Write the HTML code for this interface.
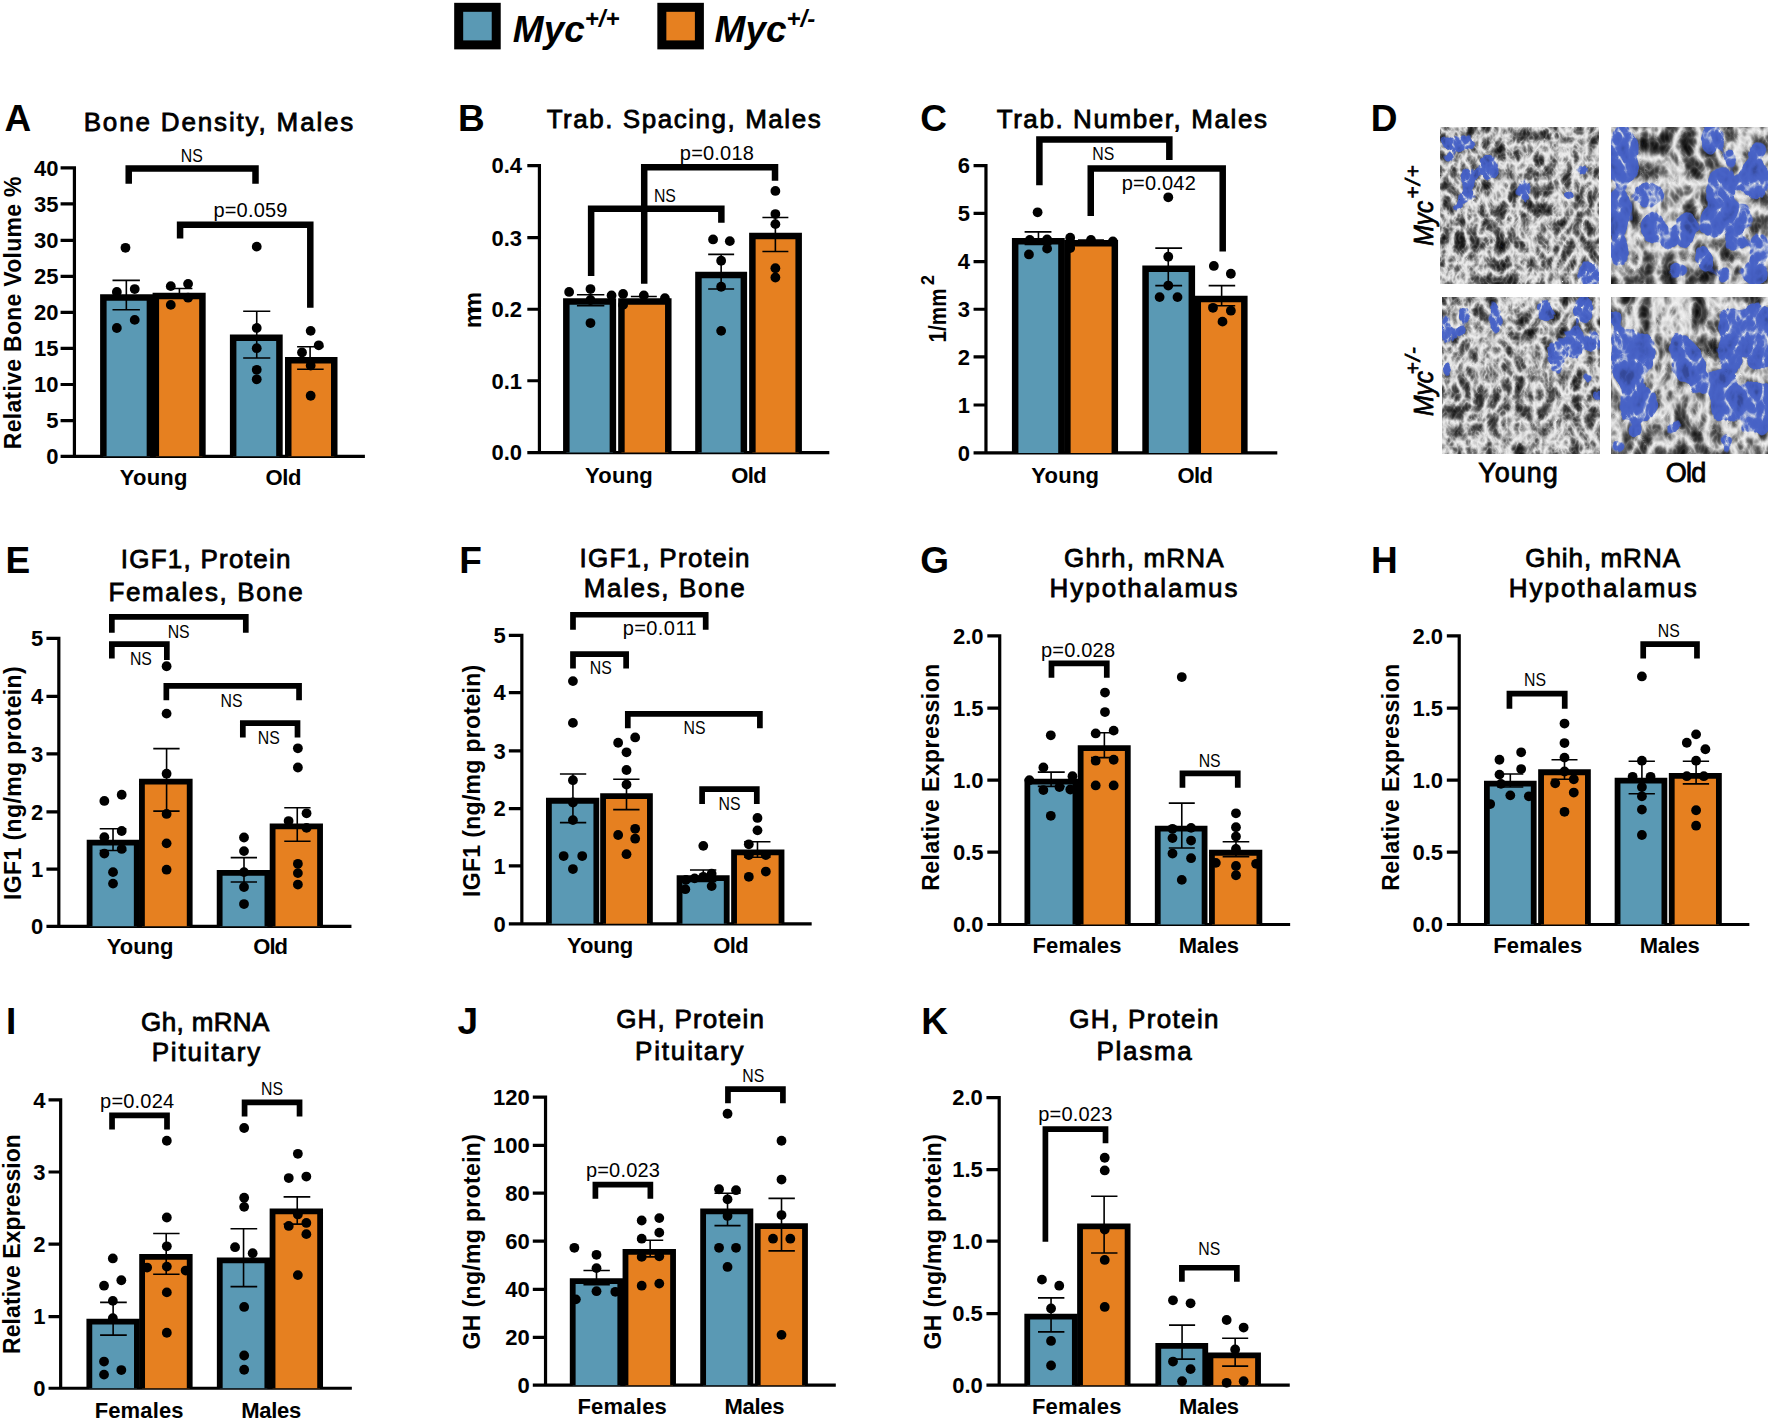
<!DOCTYPE html>
<html lang="en"><head><meta charset="utf-8"><title>Myc figure</title>
<style>
html,body{margin:0;padding:0;background:#fff}
body{width:1772px;height:1421px;overflow:hidden}
svg{display:block;font-family:"Liberation Sans",sans-serif;fill:#000}
</style></head><body>
<svg width="1772" height="1421" viewBox="0 0 1772 1421">
<rect width="1772" height="1421" fill="#fff"/>
<rect x="458.68" y="7.32" width="37.55" height="37.56" fill="#5a99b4" stroke="#000" stroke-width="9.0"/>
<rect x="661.84" y="7.32" width="37.55" height="37.56" fill="#e68020" stroke="#000" stroke-width="9.0"/>
<text x="512.87" y="42.33" font-size="37" font-weight="bold" font-style="italic">Myc<tspan font-size="24" dy="-15.5">+/+</tspan></text>
<text x="714.62" y="42.33" font-size="37" font-weight="bold" font-style="italic">Myc<tspan font-size="24" dy="-15.5">+/-</tspan></text>
<text x="4.62" y="130.96" font-size="37" font-weight="bold">A</text>
<text x="83.65" y="130.96" font-size="26" textLength="269.71" stroke="#000" stroke-width="0.8">Bone Density, Males</text>
<path d="M74.42 166.28V457.94M60.58 456.34H364.9M60.58 167.88H74.42M60.58 203.94H74.42M60.58 240.29H74.42M60.58 276.34H74.42M60.58 312.4H74.42M60.58 348.46H74.42M60.58 384.52H74.42M60.58 420.57H74.42" stroke="#000" stroke-width="3.2" fill="none"/>
<text x="58.56" y="175.69" font-size="22" font-weight="bold" text-anchor="end">40</text>
<text x="58.56" y="211.75" font-size="22" font-weight="bold" text-anchor="end">35</text>
<text x="58.56" y="248.1" font-size="22" font-weight="bold" text-anchor="end">30</text>
<text x="58.56" y="284.15" font-size="22" font-weight="bold" text-anchor="end">25</text>
<text x="58.56" y="320.21" font-size="22" font-weight="bold" text-anchor="end">20</text>
<text x="58.56" y="356.27" font-size="22" font-weight="bold" text-anchor="end">15</text>
<text x="58.56" y="392.33" font-size="22" font-weight="bold" text-anchor="end">10</text>
<text x="58.56" y="428.38" font-size="22" font-weight="bold" text-anchor="end">5</text>
<text x="58.56" y="464.15" font-size="22" font-weight="bold" text-anchor="end">0</text>
<text transform="translate(20.53,449.13) rotate(-90)" font-size="23" font-weight="bold" textLength="272.59">Relative Bone Volume %</text>
<path d="M103.35 456.34V297.48H149.92V456.34" fill="#5a99b4" stroke="#000" stroke-width="6.5"/>
<path d="M155.84 456.34V296.04H202.42V456.34" fill="#e68020" stroke="#000" stroke-width="6.5"/>
<path d="M233.15 456.34V337.86H279.44V456.34" fill="#5a99b4" stroke="#000" stroke-width="6.5"/>
<path d="M288.25 456.34V360.36H334.25V456.34" fill="#e68020" stroke="#000" stroke-width="6.5"/>
<path d="M126.34 280.38V309.81M112.5 280.38H139.9M112.5 309.81H139.9" stroke="#000" stroke-width="1.6" fill="none"/>
<path d="M179.42 288.46V298.27M166.73 288.46H192.4M166.73 298.27H192.4" stroke="#000" stroke-width="1.6" fill="none"/>
<path d="M256.73 311.25V357.98M243.17 311.25H270.29M243.17 357.98H270.29" stroke="#000" stroke-width="1.6" fill="none"/>
<path d="M310.09 346.73V369.23M297.11 346.73H323.65M297.11 369.23H323.65" stroke="#000" stroke-width="1.6" fill="none"/>
<circle cx="125.48" cy="247.79" r="4.9"/>
<circle cx="116.83" cy="291.92" r="4.9"/>
<circle cx="134.71" cy="289.04" r="4.9"/>
<circle cx="134.71" cy="319.9" r="4.9"/>
<circle cx="116.83" cy="327.98" r="4.9"/>
<circle cx="170.77" cy="286.15" r="4.9"/>
<circle cx="188.08" cy="283.84" r="4.9"/>
<circle cx="188.08" cy="297.69" r="4.9"/>
<circle cx="170.77" cy="304.9" r="4.9"/>
<circle cx="256.73" cy="246.63" r="4.9"/>
<circle cx="256.73" cy="327.98" r="4.9"/>
<circle cx="256.73" cy="348.17" r="4.9"/>
<circle cx="256.73" cy="369.81" r="4.9"/>
<circle cx="256.73" cy="379.32" r="4.9"/>
<circle cx="310.67" cy="330.86" r="4.9"/>
<circle cx="318.75" cy="345.29" r="4.9"/>
<circle cx="302.02" cy="352.5" r="4.9"/>
<circle cx="310.67" cy="365.48" r="4.9"/>
<circle cx="310.67" cy="395.77" r="4.9"/>
<path d="M128.73 183.75V168.46H255.5V183.75" stroke="#000" stroke-width="6.5" fill="none" stroke-linejoin="miter"/>
<text x="180.83" y="161.54" font-size="19" textLength="22.0" lengthAdjust="spacingAndGlyphs">NS</text>
<path d="M180.08 238.56V224.71H310.3V307.79" stroke="#000" stroke-width="6.5" fill="none" stroke-linejoin="miter"/>
<text x="213.38" y="216.92" font-size="20" textLength="74.0">p=0.059</text>
<text x="119.71" y="485.19" font-size="22" font-weight="bold" textLength="67.79">Young</text>
<text x="265.38" y="485.19" font-size="22" font-weight="bold" textLength="36.06">Old</text>
<text x="458.08" y="130.67" font-size="37" font-weight="bold">B</text>
<text x="546.63" y="128.08" font-size="26" textLength="274.04" stroke="#000" stroke-width="0.8">Trab. Spacing, Males</text>
<path d="M539.42 163.98V454.19M527.31 452.59H829.32M527.31 165.58H539.42M527.31 237.69H539.42M527.31 309.23H539.42M527.31 380.77H539.42" stroke="#000" stroke-width="3.2" fill="none"/>
<text x="522.11" y="173.39" font-size="22" font-weight="bold" text-anchor="end">0.4</text>
<text x="522.11" y="245.5" font-size="22" font-weight="bold" text-anchor="end">0.3</text>
<text x="522.11" y="317.04" font-size="22" font-weight="bold" text-anchor="end">0.2</text>
<text x="522.11" y="388.58" font-size="22" font-weight="bold" text-anchor="end">0.1</text>
<text x="522.11" y="460.4" font-size="22" font-weight="bold" text-anchor="end">0.0</text>
<text transform="translate(481.36,327.98) rotate(-90)" font-size="23" font-weight="bold" textLength="36.06">mm</text>
<path d="M566.33 452.59V301.52H612.9V452.59" fill="#5a99b4" stroke="#000" stroke-width="6.5"/>
<path d="M621.42 452.59V301.52H668.29V452.59" fill="#e68020" stroke="#000" stroke-width="6.5"/>
<path d="M698.44 452.59V274.98H743.86V452.59" fill="#5a99b4" stroke="#000" stroke-width="6.5"/>
<path d="M752.38 452.59V236.04H798.67V452.59" fill="#e68020" stroke="#000" stroke-width="6.5"/>
<path d="M590.48 294.81V305.77M576.92 294.81H604.33M576.92 305.77H604.33" stroke="#000" stroke-width="1.6" fill="none"/>
<path d="M643.84 296.54V300.57M630.86 296.54H656.82M630.86 300.57H656.82" stroke="#000" stroke-width="1.6" fill="none"/>
<path d="M721.15 254.42V289.04M708.17 254.42H734.13M708.17 289.04H734.13" stroke="#000" stroke-width="1.6" fill="none"/>
<path d="M775.38 217.5V251.54M762.4 217.5H788.36M762.4 251.54H788.36" stroke="#000" stroke-width="1.6" fill="none"/>
<circle cx="569.13" cy="291.92" r="4.9"/>
<circle cx="590.48" cy="289.04" r="4.9"/>
<circle cx="611.54" cy="295.38" r="4.9"/>
<circle cx="590.48" cy="323.07" r="4.9"/>
<circle cx="590.48" cy="300.0" r="4.9"/>
<circle cx="623.08" cy="293.94" r="4.9"/>
<circle cx="643.84" cy="295.38" r="4.9"/>
<circle cx="664.9" cy="298.27" r="4.9"/>
<circle cx="623.08" cy="304.9" r="4.9"/>
<circle cx="713.07" cy="239.42" r="4.9"/>
<circle cx="729.81" cy="241.15" r="4.9"/>
<circle cx="721.15" cy="260.77" r="4.9"/>
<circle cx="721.15" cy="286.73" r="4.9"/>
<circle cx="721.15" cy="330.86" r="4.9"/>
<circle cx="775.38" cy="190.96" r="4.9"/>
<circle cx="775.38" cy="214.04" r="4.9"/>
<circle cx="775.38" cy="224.13" r="4.9"/>
<circle cx="775.38" cy="268.27" r="4.9"/>
<circle cx="775.38" cy="277.5" r="4.9"/>
<path d="M591.13 276.06V208.85H721.36V222.69" stroke="#000" stroke-width="6.5" fill="none" stroke-linejoin="miter"/>
<text x="653.9" y="201.92" font-size="19" textLength="22.0" lengthAdjust="spacingAndGlyphs">NS</text>
<path d="M644.21 283.84V167.31H775.02V180.86" stroke="#000" stroke-width="6.5" fill="none" stroke-linejoin="miter"/>
<text x="679.82" y="160.1" font-size="20" textLength="74.0">p=0.018</text>
<text x="585.0" y="482.88" font-size="22" font-weight="bold" textLength="67.79">Young</text>
<text x="731.25" y="482.88" font-size="22" font-weight="bold" textLength="35.48">Old</text>
<text x="920.19" y="130.96" font-size="37" font-weight="bold">C</text>
<text x="996.63" y="128.08" font-size="26" textLength="270.29" stroke="#000" stroke-width="0.8">Trab. Number, Males</text>
<path d="M985.96 163.98V454.48M973.56 452.88H1277.3M973.56 165.58H985.96M973.56 213.46H985.96M973.56 261.63H985.96M973.56 309.23H985.96M973.56 356.82H985.96M973.56 405.0H985.96" stroke="#000" stroke-width="3.2" fill="none"/>
<text x="970.1" y="173.39" font-size="22" font-weight="bold" text-anchor="end">6</text>
<text x="970.1" y="221.27" font-size="22" font-weight="bold" text-anchor="end">5</text>
<text x="970.1" y="269.44" font-size="22" font-weight="bold" text-anchor="end">4</text>
<text x="970.1" y="317.04" font-size="22" font-weight="bold" text-anchor="end">3</text>
<text x="970.1" y="364.63" font-size="22" font-weight="bold" text-anchor="end">2</text>
<text x="970.1" y="412.81" font-size="22" font-weight="bold" text-anchor="end">1</text>
<text x="970.1" y="460.69" font-size="22" font-weight="bold" text-anchor="end">0</text>
<text transform="translate(946,342.4) rotate(-90)" font-size="24" font-weight="bold" textLength="54" lengthAdjust="spacingAndGlyphs">1/mm</text>
<text transform="translate(934.4,285) rotate(-90)" font-size="18" font-weight="bold">2</text>
<path d="M1015.17 452.88V241.23H1061.46V452.88" fill="#5a99b4" stroke="#000" stroke-width="6.5"/>
<path d="M1067.38 452.88V243.25H1114.82V452.88" fill="#e68020" stroke="#000" stroke-width="6.5"/>
<path d="M1145.56 452.88V268.63H1191.84V452.88" fill="#5a99b4" stroke="#000" stroke-width="6.5"/>
<path d="M1197.77 452.88V298.92H1244.34V452.88" fill="#e68020" stroke="#000" stroke-width="6.5"/>
<path d="M1038.46 231.92V244.33M1024.61 231.92H1051.44M1024.61 244.33H1051.44" stroke="#000" stroke-width="1.6" fill="none"/>
<path d="M1090.96 240.0V242.88M1077.98 240.0H1103.94M1077.98 242.88H1103.94" stroke="#000" stroke-width="1.6" fill="none"/>
<path d="M1168.27 248.08V285.58M1155.29 248.08H1182.11M1155.29 285.58H1182.11" stroke="#000" stroke-width="1.6" fill="none"/>
<path d="M1221.63 285.58V305.77M1208.65 285.58H1235.19M1208.65 305.77H1235.19" stroke="#000" stroke-width="1.6" fill="none"/>
<circle cx="1037.59" cy="212.31" r="4.9"/>
<circle cx="1029.81" cy="240.0" r="4.9"/>
<circle cx="1047.11" cy="239.42" r="4.9"/>
<circle cx="1028.94" cy="254.42" r="4.9"/>
<circle cx="1047.11" cy="248.65" r="4.9"/>
<circle cx="1070.19" cy="237.69" r="4.9"/>
<circle cx="1090.96" cy="240.0" r="4.9"/>
<circle cx="1112.88" cy="241.44" r="4.9"/>
<circle cx="1070.19" cy="248.08" r="4.9"/>
<circle cx="1168.27" cy="197.31" r="4.9"/>
<circle cx="1168.27" cy="256.73" r="4.9"/>
<circle cx="1168.27" cy="285.58" r="4.9"/>
<circle cx="1159.61" cy="297.11" r="4.9"/>
<circle cx="1177.5" cy="297.11" r="4.9"/>
<circle cx="1213.84" cy="265.96" r="4.9"/>
<circle cx="1230.86" cy="273.75" r="4.9"/>
<circle cx="1212.98" cy="307.79" r="4.9"/>
<circle cx="1230.86" cy="310.67" r="4.9"/>
<circle cx="1222.5" cy="321.63" r="4.9"/>
<path d="M1039.4 185.19V139.61H1169.34V160.1" stroke="#000" stroke-width="6.5" fill="none" stroke-linejoin="miter"/>
<text x="1092.36" y="160.1" font-size="19" textLength="22.0" lengthAdjust="spacingAndGlyphs">NS</text>
<path d="M1090.75 216.06V168.46H1222.71V251.54" stroke="#000" stroke-width="6.5" fill="none" stroke-linejoin="miter"/>
<text x="1121.75" y="189.52" font-size="20" textLength="74.0">p=0.042</text>
<text x="1031.25" y="482.88" font-size="22" font-weight="bold" textLength="67.79">Young</text>
<text x="1177.5" y="482.88" font-size="22" font-weight="bold" textLength="35.48">Old</text>
<text x="5.57" y="573.35" font-size="37" font-weight="bold">E</text>
<text x="120.76" y="567.78" font-size="26" textLength="169.69" stroke="#000" stroke-width="0.8">IGF1, Protein</text>
<text x="108.38" y="600.6" font-size="26" textLength="194.46" stroke="#000" stroke-width="0.8">Females, Bone</text>
<path d="M58.83 636.78V927.95M46.45 926.35H351.45M46.45 638.38H58.83M46.45 696.28H58.83M46.45 753.87H58.83M46.45 811.78H58.83M46.45 869.06H58.83" stroke="#000" stroke-width="3.2" fill="none"/>
<text x="43.35" y="646.19" font-size="22" font-weight="bold" text-anchor="end">5</text>
<text x="43.35" y="704.09" font-size="22" font-weight="bold" text-anchor="end">4</text>
<text x="43.35" y="761.68" font-size="22" font-weight="bold" text-anchor="end">3</text>
<text x="43.35" y="819.59" font-size="22" font-weight="bold" text-anchor="end">2</text>
<text x="43.35" y="876.87" font-size="22" font-weight="bold" text-anchor="end">1</text>
<text x="43.35" y="934.16" font-size="22" font-weight="bold" text-anchor="end">0</text>
<text transform="translate(20.51,900.02) rotate(-90)" font-size="23" font-weight="bold" textLength="233.78">IGF1 (ng/mg protein)</text>
<path d="M89.6 926.35V842.55H136.75V926.35" fill="#5a99b4" stroke="#000" stroke-width="5.8"/>
<path d="M141.93 926.35V781.55H189.7V926.35" fill="#e68020" stroke="#000" stroke-width="5.8"/>
<path d="M219.65 926.35V872.89H267.42V926.35" fill="#5a99b4" stroke="#000" stroke-width="5.8"/>
<path d="M272.6 926.35V826.44H320.06V926.35" fill="#e68020" stroke="#000" stroke-width="5.8"/>
<path d="M113.02 828.81V850.48M99.71 828.81H126.34M99.71 850.48H126.34" stroke="#000" stroke-width="1.6" fill="none"/>
<path d="M166.59 748.61V811.16M153.27 748.61H179.59M153.27 811.16H179.59" stroke="#000" stroke-width="1.6" fill="none"/>
<path d="M244.0 857.6V882.07M230.69 857.6H257.01M230.69 882.07H257.01" stroke="#000" stroke-width="1.6" fill="none"/>
<path d="M297.26 807.75V841.19M284.25 807.75H310.57M284.25 841.19H310.57" stroke="#000" stroke-width="1.6" fill="none"/>
<circle cx="104.35" cy="800.94" r="4.9"/>
<circle cx="121.69" cy="794.75" r="4.9"/>
<circle cx="121.69" cy="830.98" r="4.9"/>
<circle cx="104.35" cy="837.17" r="4.9"/>
<circle cx="104.35" cy="853.58" r="4.9"/>
<circle cx="121.69" cy="848.93" r="4.9"/>
<circle cx="113.02" cy="872.16" r="4.9"/>
<circle cx="113.02" cy="883.62" r="4.9"/>
<circle cx="166.59" cy="666.24" r="4.9"/>
<circle cx="166.59" cy="713.62" r="4.9"/>
<circle cx="166.59" cy="773.69" r="4.9"/>
<circle cx="166.59" cy="813.94" r="4.9"/>
<circle cx="166.59" cy="843.36" r="4.9"/>
<circle cx="166.59" cy="869.68" r="4.9"/>
<circle cx="244.0" cy="837.48" r="4.9"/>
<circle cx="244.0" cy="851.1" r="4.9"/>
<circle cx="244.0" cy="872.16" r="4.9"/>
<circle cx="244.0" cy="887.02" r="4.9"/>
<circle cx="244.0" cy="904.05" r="4.9"/>
<circle cx="297.88" cy="748.3" r="4.9"/>
<circle cx="297.88" cy="767.5" r="4.9"/>
<circle cx="306.55" cy="813.33" r="4.9"/>
<circle cx="288.59" cy="821.07" r="4.9"/>
<circle cx="306.55" cy="827.88" r="4.9"/>
<circle cx="297.88" cy="863.8" r="4.9"/>
<circle cx="297.88" cy="873.09" r="4.9"/>
<circle cx="297.88" cy="884.54" r="4.9"/>
<path d="M111.85 632.8V616.92H245.8V632.8" stroke="#000" stroke-width="5.7" fill="none" stroke-linejoin="miter"/>
<text x="167.67" y="637.76" font-size="19" textLength="22.0" lengthAdjust="spacingAndGlyphs">NS</text>
<path d="M111.85 658.5V644.17H166.84V660.05" stroke="#000" stroke-width="5.7" fill="none" stroke-linejoin="miter"/>
<text x="129.89" y="665.32" font-size="19" textLength="22.0" lengthAdjust="spacingAndGlyphs">NS</text>
<path d="M166.34 700.31V685.97H299.05V700.31" stroke="#000" stroke-width="5.7" fill="none" stroke-linejoin="miter"/>
<text x="220.61" y="707.12" font-size="19" textLength="22.0" lengthAdjust="spacingAndGlyphs">NS</text>
<path d="M242.83 737.46V723.13H297.51V737.46" stroke="#000" stroke-width="5.7" fill="none" stroke-linejoin="miter"/>
<text x="257.77" y="744.27" font-size="19" textLength="22.0" lengthAdjust="spacingAndGlyphs">NS</text>
<text x="106.83" y="953.59" font-size="22" font-weight="bold" textLength="66.57">Young</text>
<text x="253.29" y="953.59" font-size="22" font-weight="bold" textLength="34.68">Old</text>
<text x="459.29" y="573.35" font-size="37" font-weight="bold">F</text>
<text x="579.43" y="566.54" font-size="26" textLength="170.0" stroke="#000" stroke-width="0.8">IGF1, Protein</text>
<text x="583.77" y="597.19" font-size="26" textLength="161.02" stroke="#000" stroke-width="0.8">Males, Bone</text>
<path d="M521.84 633.68V925.47M508.83 923.87H811.67M508.83 635.28H521.84M508.83 692.56H521.84M508.83 750.78H521.84M508.83 808.68H521.84M508.83 865.97H521.84" stroke="#000" stroke-width="3.2" fill="none"/>
<text x="505.74" y="643.09" font-size="22" font-weight="bold" text-anchor="end">5</text>
<text x="505.74" y="700.37" font-size="22" font-weight="bold" text-anchor="end">4</text>
<text x="505.74" y="758.59" font-size="22" font-weight="bold" text-anchor="end">3</text>
<text x="505.74" y="816.49" font-size="22" font-weight="bold" text-anchor="end">2</text>
<text x="505.74" y="873.78" font-size="22" font-weight="bold" text-anchor="end">1</text>
<text x="505.74" y="931.68" font-size="22" font-weight="bold" text-anchor="end">0</text>
<text transform="translate(480.42,896.93) rotate(-90)" font-size="23" font-weight="bold" textLength="232.23">IGF1 (ng/mg protein)</text>
<path d="M548.89 923.87V800.74H596.35V923.87" fill="#5a99b4" stroke="#000" stroke-width="5.8"/>
<path d="M603.08 923.87V796.1H649.92V923.87" fill="#e68020" stroke="#000" stroke-width="5.8"/>
<path d="M679.56 923.87V878.15H726.71V923.87" fill="#5a99b4" stroke="#000" stroke-width="5.8"/>
<path d="M734.06 923.87V852.45H781.52V923.87" fill="#e68020" stroke="#000" stroke-width="5.8"/>
<path d="M572.93 774.0V822.61M559.92 774.0H586.24M559.92 822.61H586.24" stroke="#000" stroke-width="1.6" fill="none"/>
<path d="M626.5 779.26V809.61M613.18 779.26H639.5M613.18 809.61H639.5" stroke="#000" stroke-width="1.6" fill="none"/>
<path d="M703.29 869.99V881.45M689.98 869.99H716.3M689.98 881.45H716.3" stroke="#000" stroke-width="1.6" fill="none"/>
<path d="M757.48 841.81V857.3M744.16 841.81H770.48M744.16 857.3H770.48" stroke="#000" stroke-width="1.6" fill="none"/>
<circle cx="572.93" cy="681.11" r="4.9"/>
<circle cx="572.93" cy="722.91" r="4.9"/>
<circle cx="572.93" cy="780.19" r="4.9"/>
<circle cx="572.93" cy="820.14" r="4.9"/>
<circle cx="563.64" cy="856.06" r="4.9"/>
<circle cx="582.22" cy="856.06" r="4.9"/>
<circle cx="572.93" cy="869.06" r="4.9"/>
<circle cx="572.93" cy="802.49" r="4.9"/>
<circle cx="618.14" cy="742.73" r="4.9"/>
<circle cx="635.17" cy="737.46" r="4.9"/>
<circle cx="626.5" cy="752.33" r="4.9"/>
<circle cx="626.5" cy="769.98" r="4.9"/>
<circle cx="626.5" cy="784.53" r="4.9"/>
<circle cx="618.14" cy="835.0" r="4.9"/>
<circle cx="635.17" cy="828.81" r="4.9"/>
<circle cx="635.17" cy="838.72" r="4.9"/>
<circle cx="626.5" cy="854.2" r="4.9"/>
<circle cx="703.29" cy="845.84" r="4.9"/>
<circle cx="685.95" cy="879.9" r="4.9"/>
<circle cx="694.62" cy="878.35" r="4.9"/>
<circle cx="711.65" cy="873.71" r="4.9"/>
<circle cx="711.65" cy="886.09" r="4.9"/>
<circle cx="685.33" cy="889.19" r="4.9"/>
<circle cx="703.29" cy="876.8" r="4.9"/>
<circle cx="757.48" cy="817.97" r="4.9"/>
<circle cx="757.48" cy="830.36" r="4.9"/>
<circle cx="748.81" cy="844.29" r="4.9"/>
<circle cx="748.81" cy="855.13" r="4.9"/>
<circle cx="765.84" cy="855.13" r="4.9"/>
<circle cx="765.84" cy="871.54" r="4.9"/>
<circle cx="748.81" cy="876.8" r="4.9"/>
<path d="M572.99 629.71V614.75H705.7V629.71" stroke="#000" stroke-width="5.7" fill="none" stroke-linejoin="miter"/>
<text x="622.63" y="635.28" font-size="20" textLength="74.0">p=0.011</text>
<path d="M572.99 668.41V654.08H626.13V668.41" stroke="#000" stroke-width="5.7" fill="none" stroke-linejoin="miter"/>
<text x="589.8" y="673.99" font-size="19" textLength="22.0" lengthAdjust="spacingAndGlyphs">NS</text>
<path d="M627.8 728.17V713.84H759.89V728.17" stroke="#000" stroke-width="5.7" fill="none" stroke-linejoin="miter"/>
<text x="683.62" y="733.75" font-size="19" textLength="22.0" lengthAdjust="spacingAndGlyphs">NS</text>
<path d="M702.11 804.04V789.08H756.8V804.04" stroke="#000" stroke-width="5.7" fill="none" stroke-linejoin="miter"/>
<text x="718.61" y="809.61" font-size="19" textLength="22.0" lengthAdjust="spacingAndGlyphs">NS</text>
<text x="567.05" y="952.98" font-size="22" font-weight="bold" textLength="66.26">Young</text>
<text x="713.2" y="952.98" font-size="22" font-weight="bold" textLength="35.61">Old</text>
<text x="920.13" y="573.04" font-size="37" font-weight="bold">G</text>
<text x="1064.11" y="566.54" font-size="26" textLength="159.47" stroke="#000" stroke-width="0.8">Ghrh, mRNA</text>
<text x="1049.56" y="597.19" font-size="26" textLength="187.95" stroke="#000" stroke-width="0.8">Hypothalamus</text>
<path d="M999.71 634.3V926.09M987.32 924.49H1290.15M987.32 635.9H999.71M987.32 708.05H999.71M987.32 780.19H999.71M987.32 852.03H999.71" stroke="#000" stroke-width="3.2" fill="none"/>
<text x="983.6" y="643.71" font-size="22" font-weight="bold" text-anchor="end">2.0</text>
<text x="983.6" y="715.86" font-size="22" font-weight="bold" text-anchor="end">1.5</text>
<text x="983.6" y="788.0" font-size="22" font-weight="bold" text-anchor="end">1.0</text>
<text x="983.6" y="859.84" font-size="22" font-weight="bold" text-anchor="end">0.5</text>
<text x="983.6" y="932.3" font-size="22" font-weight="bold" text-anchor="end">0.0</text>
<text transform="translate(939.24,890.74) rotate(-90)" font-size="23" font-weight="bold" textLength="226.97">Relative Expression</text>
<path d="M1027.38 924.49V781.55H1075.46V924.49" fill="#5a99b4" stroke="#000" stroke-width="5.8"/>
<path d="M1080.64 924.49V748.1H1127.79V924.49" fill="#e68020" stroke="#000" stroke-width="5.8"/>
<path d="M1157.74 924.49V828.61H1204.58V924.49" fill="#5a99b4" stroke="#000" stroke-width="5.8"/>
<path d="M1211.93 924.49V852.76H1259.39V924.49" fill="#e68020" stroke="#000" stroke-width="5.8"/>
<path d="M1051.11 772.14V786.39M1037.79 772.14H1064.73M1037.79 786.39H1064.73" stroke="#000" stroke-width="1.6" fill="none"/>
<path d="M1104.37 732.82V757.59M1091.05 732.82H1117.68M1091.05 757.59H1117.68" stroke="#000" stroke-width="1.6" fill="none"/>
<path d="M1181.78 803.11V848.01M1168.77 803.11H1194.78M1168.77 848.01H1194.78" stroke="#000" stroke-width="1.6" fill="none"/>
<path d="M1235.97 841.81V856.68M1222.65 841.81H1249.28M1222.65 856.68H1249.28" stroke="#000" stroke-width="1.6" fill="none"/>
<circle cx="1050.8" cy="735.29" r="4.9"/>
<circle cx="1043.37" cy="767.5" r="4.9"/>
<circle cx="1029.43" cy="780.19" r="4.9"/>
<circle cx="1072.47" cy="776.17" r="4.9"/>
<circle cx="1043.37" cy="790.1" r="4.9"/>
<circle cx="1059.47" cy="787.01" r="4.9"/>
<circle cx="1070.31" cy="789.48" r="4.9"/>
<circle cx="1050.8" cy="815.8" r="4.9"/>
<circle cx="1104.99" cy="692.56" r="4.9"/>
<circle cx="1104.99" cy="712.07" r="4.9"/>
<circle cx="1095.7" cy="733.44" r="4.9"/>
<circle cx="1113.66" cy="730.65" r="4.9"/>
<circle cx="1095.7" cy="760.69" r="4.9"/>
<circle cx="1113.66" cy="759.76" r="4.9"/>
<circle cx="1095.7" cy="785.46" r="4.9"/>
<circle cx="1113.66" cy="785.46" r="4.9"/>
<circle cx="1181.78" cy="677.08" r="4.9"/>
<circle cx="1172.49" cy="828.81" r="4.9"/>
<circle cx="1191.07" cy="827.88" r="4.9"/>
<circle cx="1172.49" cy="838.1" r="4.9"/>
<circle cx="1191.07" cy="840.57" r="4.9"/>
<circle cx="1172.49" cy="853.58" r="4.9"/>
<circle cx="1191.07" cy="858.22" r="4.9"/>
<circle cx="1181.78" cy="879.9" r="4.9"/>
<circle cx="1235.97" cy="813.33" r="4.9"/>
<circle cx="1235.97" cy="827.26" r="4.9"/>
<circle cx="1235.97" cy="836.55" r="4.9"/>
<circle cx="1235.97" cy="848.93" r="4.9"/>
<circle cx="1215.84" cy="862.87" r="4.9"/>
<circle cx="1235.97" cy="865.97" r="4.9"/>
<circle cx="1256.09" cy="863.8" r="4.9"/>
<circle cx="1235.97" cy="875.25" r="4.9"/>
<path d="M1051.48 677.7V663.37H1106.78V677.7" stroke="#000" stroke-width="5.7" fill="none" stroke-linejoin="miter"/>
<text x="1041.05" y="656.95" font-size="20" textLength="74.0">p=0.028</text>
<path d="M1182.46 787.63V773.29H1237.76V787.63" stroke="#000" stroke-width="5.7" fill="none" stroke-linejoin="miter"/>
<text x="1198.65" y="766.88" font-size="19" textLength="22.0" lengthAdjust="spacingAndGlyphs">NS</text>
<text x="1032.53" y="952.67" font-size="22" font-weight="bold" textLength="88.87">Females</text>
<text x="1178.68" y="952.67" font-size="22" font-weight="bold" textLength="60.38">Males</text>
<text x="1370.96" y="573.35" font-size="37" font-weight="bold">H</text>
<text x="1525.17" y="566.54" font-size="26" textLength="154.82" stroke="#000" stroke-width="0.8">Ghih, mRNA</text>
<text x="1508.76" y="597.19" font-size="26" textLength="187.95" stroke="#000" stroke-width="0.8">Hypothalamus</text>
<path d="M1459.21 634.3V926.09M1446.83 924.49H1749.35M1446.83 635.9H1459.21M1446.83 708.05H1459.21M1446.83 780.19H1459.21M1446.83 852.03H1459.21" stroke="#000" stroke-width="3.2" fill="none"/>
<text x="1443.11" y="643.71" font-size="22" font-weight="bold" text-anchor="end">2.0</text>
<text x="1443.11" y="715.86" font-size="22" font-weight="bold" text-anchor="end">1.5</text>
<text x="1443.11" y="788.0" font-size="22" font-weight="bold" text-anchor="end">1.0</text>
<text x="1443.11" y="859.84" font-size="22" font-weight="bold" text-anchor="end">0.5</text>
<text x="1443.11" y="932.3" font-size="22" font-weight="bold" text-anchor="end">0.0</text>
<text transform="translate(1399.37,890.74) rotate(-90)" font-size="23" font-weight="bold" textLength="226.97">Relative Expression</text>
<path d="M1486.89 924.49V783.71H1533.72V924.49" fill="#5a99b4" stroke="#000" stroke-width="5.8"/>
<path d="M1541.07 924.49V772.26H1587.91V924.49" fill="#e68020" stroke="#000" stroke-width="5.8"/>
<path d="M1617.56 924.49V780.62H1664.4V924.49" fill="#5a99b4" stroke="#000" stroke-width="5.8"/>
<path d="M1671.74 924.49V775.97H1718.89V924.49" fill="#e68020" stroke="#000" stroke-width="5.8"/>
<path d="M1510.31 774.0V787.01M1497.3 774.0H1523.31M1497.3 787.01H1523.31" stroke="#000" stroke-width="1.6" fill="none"/>
<path d="M1564.49 759.76V779.26M1551.49 759.76H1577.5M1551.49 779.26H1577.5" stroke="#000" stroke-width="1.6" fill="none"/>
<path d="M1641.9 761.31V793.82M1628.59 761.31H1654.91M1628.59 793.82H1654.91" stroke="#000" stroke-width="1.6" fill="none"/>
<path d="M1696.09 761.31V783.91M1682.78 761.31H1709.1M1682.78 783.91H1709.1" stroke="#000" stroke-width="1.6" fill="none"/>
<circle cx="1499.47" cy="759.76" r="4.9"/>
<circle cx="1521.14" cy="752.33" r="4.9"/>
<circle cx="1521.14" cy="769.05" r="4.9"/>
<circle cx="1499.47" cy="774.62" r="4.9"/>
<circle cx="1510.31" cy="795.37" r="4.9"/>
<circle cx="1490.18" cy="804.04" r="4.9"/>
<circle cx="1528.88" cy="796.3" r="4.9"/>
<circle cx="1501.02" cy="783.91" r="4.9"/>
<circle cx="1564.49" cy="723.53" r="4.9"/>
<circle cx="1564.49" cy="743.04" r="4.9"/>
<circle cx="1564.49" cy="757.59" r="4.9"/>
<circle cx="1555.2" cy="783.29" r="4.9"/>
<circle cx="1573.78" cy="779.26" r="4.9"/>
<circle cx="1573.78" cy="792.58" r="4.9"/>
<circle cx="1564.49" cy="811.78" r="4.9"/>
<circle cx="1564.49" cy="771.52" r="4.9"/>
<circle cx="1641.9" cy="676.46" r="4.9"/>
<circle cx="1641.9" cy="760.69" r="4.9"/>
<circle cx="1632.61" cy="776.79" r="4.9"/>
<circle cx="1650.57" cy="776.79" r="4.9"/>
<circle cx="1641.9" cy="787.01" r="4.9"/>
<circle cx="1641.9" cy="796.3" r="4.9"/>
<circle cx="1641.9" cy="809.61" r="4.9"/>
<circle cx="1641.9" cy="835.0" r="4.9"/>
<circle cx="1696.09" cy="734.37" r="4.9"/>
<circle cx="1686.8" cy="742.73" r="4.9"/>
<circle cx="1705.38" cy="749.23" r="4.9"/>
<circle cx="1696.09" cy="760.69" r="4.9"/>
<circle cx="1686.8" cy="776.17" r="4.9"/>
<circle cx="1703.83" cy="776.17" r="4.9"/>
<circle cx="1696.09" cy="810.23" r="4.9"/>
<circle cx="1696.09" cy="825.71" r="4.9"/>
<path d="M1509.44 708.67V693.71H1564.74V708.67" stroke="#000" stroke-width="5.7" fill="none" stroke-linejoin="miter"/>
<text x="1524.08" y="685.75" font-size="19" textLength="22.0" lengthAdjust="spacingAndGlyphs">NS</text>
<path d="M1643.21 658.5V644.17H1696.96V658.5" stroke="#000" stroke-width="5.7" fill="none" stroke-linejoin="miter"/>
<text x="1657.84" y="637.45" font-size="19" textLength="22.0" lengthAdjust="spacingAndGlyphs">NS</text>
<text x="1493.27" y="952.67" font-size="22" font-weight="bold" textLength="88.87">Females</text>
<text x="1639.74" y="952.67" font-size="22" font-weight="bold" textLength="60.07">Males</text>
<text x="6.07" y="1033.98" font-size="37" font-weight="bold">I</text>
<text x="141.04" y="1030.95" font-size="26" textLength="128.3" stroke="#000" stroke-width="0.8">Gh, mRNA</text>
<text x="151.65" y="1061.28" font-size="26" textLength="108.58" stroke="#000" stroke-width="0.8">Pituitary</text>
<path d="M60.66 1098.2V1389.84M48.53 1388.24H351.84M48.53 1099.8H60.66M48.53 1171.98H60.66M48.53 1244.17H60.66M48.53 1316.66H60.66" stroke="#000" stroke-width="3.2" fill="none"/>
<text x="45.5" y="1107.61" font-size="22" font-weight="bold" text-anchor="end">4</text>
<text x="45.5" y="1179.79" font-size="22" font-weight="bold" text-anchor="end">3</text>
<text x="45.5" y="1251.98" font-size="22" font-weight="bold" text-anchor="end">2</text>
<text x="45.5" y="1324.47" font-size="22" font-weight="bold" text-anchor="end">1</text>
<text x="45.5" y="1396.05" font-size="22" font-weight="bold" text-anchor="end">0</text>
<text transform="translate(20.41,1353.97) rotate(-90)" font-size="23" font-weight="bold" textLength="219.9">Relative Expression</text>
<path d="M89.34 1388.24V1321.68H136.92V1388.24" fill="#5a99b4" stroke="#000" stroke-width="5.8"/>
<path d="M142.12 1388.24V1256.78H189.7V1388.24" fill="#e68020" stroke="#000" stroke-width="5.8"/>
<path d="M219.76 1388.24V1260.42H267.35V1388.24" fill="#5a99b4" stroke="#000" stroke-width="5.8"/>
<path d="M272.54 1388.24V1211.28H320.12V1388.24" fill="#e68020" stroke="#000" stroke-width="5.8"/>
<path d="M113.13 1302.41V1335.16M100.09 1302.41H126.78M100.09 1335.16H126.78" stroke="#000" stroke-width="1.6" fill="none"/>
<path d="M166.21 1233.55V1274.2M153.17 1233.55H179.56M153.17 1274.2H179.56" stroke="#000" stroke-width="1.6" fill="none"/>
<path d="M243.55 1228.7V1286.63M230.51 1228.7H257.2M230.51 1286.63H257.2" stroke="#000" stroke-width="1.6" fill="none"/>
<path d="M297.24 1196.85V1224.15M283.59 1196.85H310.28M283.59 1224.15H310.28" stroke="#000" stroke-width="1.6" fill="none"/>
<circle cx="112.83" cy="1258.43" r="4.9"/>
<circle cx="121.32" cy="1280.26" r="4.9"/>
<circle cx="104.03" cy="1285.72" r="4.9"/>
<circle cx="112.83" cy="1300.89" r="4.9"/>
<circle cx="112.83" cy="1318.18" r="4.9"/>
<circle cx="104.03" cy="1361.55" r="4.9"/>
<circle cx="121.32" cy="1370.04" r="4.9"/>
<circle cx="104.03" cy="1374.59" r="4.9"/>
<circle cx="166.82" cy="1140.74" r="4.9"/>
<circle cx="166.82" cy="1217.48" r="4.9"/>
<circle cx="166.82" cy="1246.29" r="4.9"/>
<circle cx="166.82" cy="1266.62" r="4.9"/>
<circle cx="147.1" cy="1267.53" r="4.9"/>
<circle cx="185.62" cy="1270.56" r="4.9"/>
<circle cx="166.82" cy="1292.4" r="4.9"/>
<circle cx="166.82" cy="1332.74" r="4.9"/>
<circle cx="244.16" cy="1128.0" r="4.9"/>
<circle cx="244.16" cy="1197.76" r="4.9"/>
<circle cx="244.16" cy="1206.86" r="4.9"/>
<circle cx="235.06" cy="1247.2" r="4.9"/>
<circle cx="252.65" cy="1253.27" r="4.9"/>
<circle cx="244.16" cy="1306.95" r="4.9"/>
<circle cx="244.16" cy="1355.48" r="4.9"/>
<circle cx="244.16" cy="1369.74" r="4.9"/>
<circle cx="297.85" cy="1153.79" r="4.9"/>
<circle cx="288.75" cy="1178.05" r="4.9"/>
<circle cx="306.34" cy="1176.53" r="4.9"/>
<circle cx="288.75" cy="1225.97" r="4.9"/>
<circle cx="306.34" cy="1222.94" r="4.9"/>
<circle cx="306.34" cy="1234.16" r="4.9"/>
<circle cx="297.85" cy="1214.45" r="4.9"/>
<circle cx="297.85" cy="1275.11" r="4.9"/>
<path d="M112.04 1129.52V1115.47H167.0V1129.52" stroke="#000" stroke-width="5.7" fill="none" stroke-linejoin="miter"/>
<text x="100.09" y="1108.29" font-size="20" textLength="74.0">p=0.024</text>
<path d="M244.58 1116.48V1102.43H299.55V1116.48" stroke="#000" stroke-width="5.7" fill="none" stroke-linejoin="miter"/>
<text x="261.07" y="1095.25" font-size="19" textLength="22.0" lengthAdjust="spacingAndGlyphs">NS</text>
<text x="94.63" y="1417.96" font-size="22" font-weight="bold" textLength="88.87">Females</text>
<text x="241.13" y="1417.96" font-size="22" font-weight="bold" textLength="60.05">Males</text>
<text x="457.58" y="1033.98" font-size="37" font-weight="bold">J</text>
<text x="616.21" y="1027.91" font-size="26" textLength="147.71" stroke="#000" stroke-width="0.8">GH, Protein</text>
<text x="635.02" y="1059.76" font-size="26" textLength="108.58" stroke="#000" stroke-width="0.8">Pituitary</text>
<path d="M545.54 1095.47V1386.81M532.8 1385.21H835.81M532.8 1097.07H545.54M532.8 1145.29H545.54M532.8 1193.22H545.54M532.8 1241.14H545.54M532.8 1289.36H545.54M532.8 1337.29H545.54" stroke="#000" stroke-width="3.2" fill="none"/>
<text x="529.77" y="1104.88" font-size="22" font-weight="bold" text-anchor="end">120</text>
<text x="529.77" y="1153.1" font-size="22" font-weight="bold" text-anchor="end">100</text>
<text x="529.77" y="1201.03" font-size="22" font-weight="bold" text-anchor="end">80</text>
<text x="529.77" y="1248.95" font-size="22" font-weight="bold" text-anchor="end">60</text>
<text x="529.77" y="1297.17" font-size="22" font-weight="bold" text-anchor="end">40</text>
<text x="529.77" y="1345.1" font-size="22" font-weight="bold" text-anchor="end">20</text>
<text x="529.77" y="1393.02" font-size="22" font-weight="bold" text-anchor="end">0</text>
<text transform="translate(479.96,1349.42) rotate(-90)" font-size="23" font-weight="bold" textLength="215.35">GH (ng/mg protein)</text>
<path d="M572.71 1385.21V1281.04H620.29V1385.21" fill="#5a99b4" stroke="#000" stroke-width="5.8"/>
<path d="M625.48 1385.21V1251.92H673.06V1385.21" fill="#e68020" stroke="#000" stroke-width="5.8"/>
<path d="M703.13 1385.21V1211.28H750.41V1385.21" fill="#5a99b4" stroke="#000" stroke-width="5.8"/>
<path d="M757.72 1385.21V1226.14H805.0V1385.21" fill="#e68020" stroke="#000" stroke-width="5.8"/>
<path d="M596.5 1270.56V1284.81M583.45 1270.56H609.84M583.45 1284.81H609.84" stroke="#000" stroke-width="1.6" fill="none"/>
<path d="M650.18 1240.23V1256.91M637.14 1240.23H663.22M637.14 1256.91H663.22" stroke="#000" stroke-width="1.6" fill="none"/>
<path d="M727.53 1193.22V1225.67M714.48 1193.22H740.57M714.48 1225.67H740.57" stroke="#000" stroke-width="1.6" fill="none"/>
<path d="M781.51 1198.37V1250.84M768.47 1198.37H794.86M768.47 1250.84H794.86" stroke="#000" stroke-width="1.6" fill="none"/>
<circle cx="574.36" cy="1247.81" r="4.9"/>
<circle cx="596.5" cy="1254.79" r="4.9"/>
<circle cx="596.5" cy="1268.13" r="4.9"/>
<circle cx="596.5" cy="1291.18" r="4.9"/>
<circle cx="575.87" cy="1299.37" r="4.9"/>
<circle cx="615.3" cy="1291.79" r="4.9"/>
<circle cx="641.69" cy="1220.51" r="4.9"/>
<circle cx="659.28" cy="1218.09" r="4.9"/>
<circle cx="659.28" cy="1232.64" r="4.9"/>
<circle cx="641.69" cy="1238.71" r="4.9"/>
<circle cx="641.69" cy="1256.91" r="4.9"/>
<circle cx="659.28" cy="1256.3" r="4.9"/>
<circle cx="641.69" cy="1285.72" r="4.9"/>
<circle cx="659.28" cy="1283.6" r="4.9"/>
<circle cx="727.53" cy="1113.75" r="4.9"/>
<circle cx="719.03" cy="1189.27" r="4.9"/>
<circle cx="736.02" cy="1190.18" r="4.9"/>
<circle cx="727.53" cy="1199.28" r="4.9"/>
<circle cx="727.53" cy="1215.96" r="4.9"/>
<circle cx="719.03" cy="1247.81" r="4.9"/>
<circle cx="736.02" cy="1247.81" r="4.9"/>
<circle cx="727.53" cy="1266.92" r="4.9"/>
<circle cx="781.51" cy="1140.74" r="4.9"/>
<circle cx="781.51" cy="1179.57" r="4.9"/>
<circle cx="781.51" cy="1215.05" r="4.9"/>
<circle cx="773.02" cy="1238.71" r="4.9"/>
<circle cx="790.31" cy="1238.71" r="4.9"/>
<circle cx="781.51" cy="1334.86" r="4.9"/>
<path d="M595.4 1198.67V1184.63H650.37V1198.67" stroke="#000" stroke-width="5.7" fill="none" stroke-linejoin="miter"/>
<text x="585.88" y="1176.53" font-size="20" textLength="74.0">p=0.023</text>
<path d="M727.95 1103.13V1089.08H782.91V1103.13" stroke="#000" stroke-width="5.7" fill="none" stroke-linejoin="miter"/>
<text x="742.31" y="1081.9" font-size="19" textLength="22.0" lengthAdjust="spacingAndGlyphs">NS</text>
<text x="577.39" y="1414.33" font-size="22" font-weight="bold" textLength="89.48">Females</text>
<text x="724.49" y="1414.33" font-size="22" font-weight="bold" textLength="60.05">Males</text>
<text x="921.23" y="1033.98" font-size="37" font-weight="bold">K</text>
<text x="1069.24" y="1027.91" font-size="26" textLength="149.23" stroke="#000" stroke-width="0.8">GH, Protein</text>
<text x="1096.54" y="1059.76" font-size="26" textLength="95.24" stroke="#000" stroke-width="0.8">Plasma</text>
<path d="M999.18 1096.07V1386.81M986.44 1385.21H1289.75M986.44 1097.67H999.18M986.44 1169.56H999.18M986.44 1241.14H999.18M986.44 1313.63H999.18" stroke="#000" stroke-width="3.2" fill="none"/>
<text x="982.8" y="1105.48" font-size="22" font-weight="bold" text-anchor="end">2.0</text>
<text x="982.8" y="1177.37" font-size="22" font-weight="bold" text-anchor="end">1.5</text>
<text x="982.8" y="1248.95" font-size="22" font-weight="bold" text-anchor="end">1.0</text>
<text x="982.8" y="1321.44" font-size="22" font-weight="bold" text-anchor="end">0.5</text>
<text x="982.8" y="1393.02" font-size="22" font-weight="bold" text-anchor="end">0.0</text>
<text transform="translate(940.88,1349.42) rotate(-90)" font-size="23" font-weight="bold" textLength="215.35">GH (ng/mg protein)</text>
<path d="M1027.26 1385.21V1316.53H1074.84V1385.21" fill="#5a99b4" stroke="#000" stroke-width="5.8"/>
<path d="M1080.03 1385.21V1226.45H1127.61V1385.21" fill="#e68020" stroke="#000" stroke-width="5.8"/>
<path d="M1158.28 1385.21V1345.95H1205.26V1385.21" fill="#5a99b4" stroke="#000" stroke-width="5.8"/>
<path d="M1210.45 1385.21V1355.35H1258.03V1385.21" fill="#e68020" stroke="#000" stroke-width="5.8"/>
<path d="M1051.05 1297.86V1331.83M1038.0 1297.86H1064.39M1038.0 1331.83H1064.39" stroke="#000" stroke-width="1.6" fill="none"/>
<path d="M1104.12 1196.25V1252.97M1091.08 1196.25H1117.47M1091.08 1252.97H1117.47" stroke="#000" stroke-width="1.6" fill="none"/>
<path d="M1182.07 1325.15V1359.12M1169.03 1325.15H1195.12M1169.03 1359.12H1195.12" stroke="#000" stroke-width="1.6" fill="none"/>
<path d="M1235.15 1338.2V1366.1M1222.11 1338.2H1248.2M1222.11 1366.1H1248.2" stroke="#000" stroke-width="1.6" fill="none"/>
<circle cx="1041.95" cy="1279.66" r="4.9"/>
<circle cx="1059.24" cy="1285.72" r="4.9"/>
<circle cx="1051.05" cy="1308.47" r="4.9"/>
<circle cx="1051.05" cy="1340.93" r="4.9"/>
<circle cx="1051.05" cy="1365.49" r="4.9"/>
<circle cx="1104.73" cy="1157.73" r="4.9"/>
<circle cx="1104.73" cy="1170.47" r="4.9"/>
<circle cx="1104.73" cy="1229.61" r="4.9"/>
<circle cx="1104.73" cy="1259.94" r="4.9"/>
<circle cx="1104.73" cy="1306.95" r="4.9"/>
<circle cx="1172.98" cy="1300.28" r="4.9"/>
<circle cx="1190.57" cy="1303.32" r="4.9"/>
<circle cx="1172.98" cy="1361.55" r="4.9"/>
<circle cx="1190.57" cy="1369.13" r="4.9"/>
<circle cx="1182.07" cy="1381.26" r="4.9"/>
<circle cx="1226.66" cy="1320.0" r="4.9"/>
<circle cx="1243.65" cy="1327.58" r="4.9"/>
<circle cx="1235.15" cy="1349.42" r="4.9"/>
<circle cx="1226.66" cy="1382.78" r="4.9"/>
<circle cx="1243.65" cy="1381.26" r="4.9"/>
<path d="M1045.4 1241.74V1129.12H1105.52V1143.17" stroke="#000" stroke-width="5.7" fill="none" stroke-linejoin="miter"/>
<text x="1038.31" y="1121.03" font-size="20" textLength="74.0">p=0.023</text>
<path d="M1181.89 1281.78V1267.73H1236.85V1281.78" stroke="#000" stroke-width="5.7" fill="none" stroke-linejoin="miter"/>
<text x="1198.37" y="1255.39" font-size="19" textLength="22.0" lengthAdjust="spacingAndGlyphs">NS</text>
<text x="1031.94" y="1414.33" font-size="22" font-weight="bold" textLength="89.48">Females</text>
<text x="1179.04" y="1414.33" font-size="22" font-weight="bold" textLength="60.05">Males</text>
<text x="1370.77" y="130.96" font-size="37" font-weight="bold">D</text>
<defs><filter id="ct1" filterUnits="userSpaceOnUse" x="1440.5" y="127" width="157.7" height="157" color-interpolation-filters="sRGB">
<feTurbulence type="turbulence" baseFrequency="0.075 0.055" numOctaves="3" seed="37" result="n"/>
<feColorMatrix in="n" type="matrix" values="1 0 0 0 0  1 0 0 0 0  1 0 0 0 0  0 0 0 0 1" result="g0"/>
<feComponentTransfer in="g0" result="gray"><feFuncR type="table" tableValues="0.95 0.9 0.8 0.62 0.42 0.28 0.18 0.1 0.05 0.02 0"/><feFuncG type="table" tableValues="0.95 0.9 0.8 0.62 0.42 0.28 0.18 0.1 0.05 0.02 0"/><feFuncB type="table" tableValues="0.95 0.9 0.8 0.62 0.42 0.28 0.18 0.1 0.05 0.02 0"/></feComponentTransfer>
<feComponentTransfer in="g0" result="blue"><feFuncR type="table" tableValues="0.9 0.62 0.32 0.285 0.28 0.27 0.25 0.22 0.2 0.2 0.2"/><feFuncG type="table" tableValues="0.9 0.68 0.42 0.39 0.385 0.37 0.35 0.30 0.28 0.28 0.28"/><feFuncB type="table" tableValues="0.92 0.85 0.79 0.78 0.775 0.76 0.72 0.62 0.6 0.6 0.6"/></feComponentTransfer>
<feGaussianBlur in="SourceAlpha" stdDeviation="3.5" result="mb"/>
<feColorMatrix in="n" type="matrix" values="0 0 0 0 0  0 0 0 0 0  0 0 0 0 0  1 0 0 0 0" result="na"/>
<feComposite in="mb" in2="na" operator="arithmetic" k1="0" k2="0.9" k3="0.72" k4="0" result="m1"/>
<feComponentTransfer in="m1" result="m2"><feFuncA type="linear" slope="9" intercept="-5.35"/></feComponentTransfer>
<feComposite in="blue" in2="m2" operator="in" result="bluem"/>
<feMerge><feMergeNode in="gray"/><feMergeNode in="bluem"/></feMerge>
</filter></defs>
<g filter="url(#ct1)" fill="#fff">
<ellipse cx="1458.5" cy="143.3" rx="18.0" ry="7.1"/>
<ellipse cx="1488.6" cy="167.5" rx="10.0" ry="12.5"/>
<ellipse cx="1467.9" cy="177.6" rx="7.7" ry="9.6"/>
<ellipse cx="1467.3" cy="195.9" rx="8.3" ry="7.1"/>
<ellipse cx="1457.9" cy="207.1" rx="4.7" ry="5.3"/>
<ellipse cx="1524.1" cy="189.4" rx="5.9" ry="11.9"/>
<ellipse cx="1569.0" cy="195.9" rx="5.9" ry="5.9"/>
<ellipse cx="1580.8" cy="169.9" rx="8.3" ry="4.7"/>
<ellipse cx="1589.7" cy="274.5" rx="11.9" ry="13.1"/>
<ellipse cx="1450.2" cy="157.5" rx="5.3" ry="5.3"/>
</g>
<defs><filter id="ct2" filterUnits="userSpaceOnUse" x="1611" y="127" width="157" height="157" color-interpolation-filters="sRGB">
<feTurbulence type="turbulence" baseFrequency="0.05 0.038" numOctaves="3" seed="23" result="n"/>
<feColorMatrix in="n" type="matrix" values="1 0 0 0 0  1 0 0 0 0  1 0 0 0 0  0 0 0 0 1" result="g0"/>
<feComponentTransfer in="g0" result="gray"><feFuncR type="table" tableValues="0.95 0.9 0.8 0.62 0.42 0.28 0.18 0.1 0.05 0.02 0"/><feFuncG type="table" tableValues="0.95 0.9 0.8 0.62 0.42 0.28 0.18 0.1 0.05 0.02 0"/><feFuncB type="table" tableValues="0.95 0.9 0.8 0.62 0.42 0.28 0.18 0.1 0.05 0.02 0"/></feComponentTransfer>
<feComponentTransfer in="g0" result="blue"><feFuncR type="table" tableValues="0.9 0.62 0.32 0.285 0.28 0.27 0.25 0.22 0.2 0.2 0.2"/><feFuncG type="table" tableValues="0.9 0.68 0.42 0.39 0.385 0.37 0.35 0.30 0.28 0.28 0.28"/><feFuncB type="table" tableValues="0.92 0.85 0.79 0.78 0.775 0.76 0.72 0.62 0.6 0.6 0.6"/></feComponentTransfer>
<feGaussianBlur in="SourceAlpha" stdDeviation="3.5" result="mb"/>
<feColorMatrix in="n" type="matrix" values="0 0 0 0 0  0 0 0 0 0  0 0 0 0 0  1 0 0 0 0" result="na"/>
<feComposite in="mb" in2="na" operator="arithmetic" k1="0" k2="0.9" k3="0.72" k4="0" result="m1"/>
<feComponentTransfer in="m1" result="m2"><feFuncA type="linear" slope="9" intercept="-5.35"/></feComponentTransfer>
<feComposite in="blue" in2="m2" operator="in" result="bluem"/>
<feMerge><feMergeNode in="gray"/><feMergeNode in="bluem"/></feMerge>
</filter></defs>
<g filter="url(#ct2)" fill="#fff">
<ellipse cx="1622.6" cy="156.3" rx="15.6" ry="31.9"/>
<ellipse cx="1619.0" cy="211.9" rx="10.9" ry="24.4"/>
<ellipse cx="1619.0" cy="250.9" rx="9.5" ry="16.3"/>
<ellipse cx="1648.6" cy="194.7" rx="16.0" ry="12.9"/>
<ellipse cx="1653.3" cy="227.2" rx="12.2" ry="16.3"/>
<ellipse cx="1667.5" cy="239.0" rx="7.4" ry="12.9"/>
<ellipse cx="1684.6" cy="230.8" rx="10.9" ry="17.6"/>
<ellipse cx="1712.4" cy="138.6" rx="12.2" ry="13.5"/>
<ellipse cx="1721.3" cy="188.2" rx="14.9" ry="20.3"/>
<ellipse cx="1714.2" cy="222.5" rx="14.2" ry="16.0"/>
<ellipse cx="1753.8" cy="178.8" rx="16.3" ry="19.0"/>
<ellipse cx="1740.2" cy="216.6" rx="12.2" ry="14.9"/>
<ellipse cx="1759.7" cy="249.7" rx="10.9" ry="16.3"/>
<ellipse cx="1753.8" cy="272.7" rx="13.5" ry="11.5"/>
<ellipse cx="1736.1" cy="241.4" rx="10.2" ry="10.2"/>
<ellipse cx="1730.1" cy="157.5" rx="7.4" ry="8.7"/>
<ellipse cx="1757.3" cy="151.6" rx="8.7" ry="8.7"/>
<ellipse cx="1704.1" cy="258.0" rx="8.7" ry="11.5"/>
<ellipse cx="1679.3" cy="269.8" rx="7.4" ry="8.7"/>
<ellipse cx="1724.2" cy="274.5" rx="8.2" ry="8.2"/>
</g>
<defs><filter id="ct3" filterUnits="userSpaceOnUse" x="1442" y="297.8" width="157.3" height="155.9" color-interpolation-filters="sRGB">
<feTurbulence type="turbulence" baseFrequency="0.072 0.052" numOctaves="3" seed="21" result="n"/>
<feColorMatrix in="n" type="matrix" values="1 0 0 0 0  1 0 0 0 0  1 0 0 0 0  0 0 0 0 1" result="g0"/>
<feComponentTransfer in="g0" result="gray"><feFuncR type="table" tableValues="0.95 0.9 0.8 0.62 0.42 0.28 0.18 0.1 0.05 0.02 0"/><feFuncG type="table" tableValues="0.95 0.9 0.8 0.62 0.42 0.28 0.18 0.1 0.05 0.02 0"/><feFuncB type="table" tableValues="0.95 0.9 0.8 0.62 0.42 0.28 0.18 0.1 0.05 0.02 0"/></feComponentTransfer>
<feComponentTransfer in="g0" result="blue"><feFuncR type="table" tableValues="0.9 0.62 0.32 0.285 0.28 0.27 0.25 0.22 0.2 0.2 0.2"/><feFuncG type="table" tableValues="0.9 0.68 0.42 0.39 0.385 0.37 0.35 0.30 0.28 0.28 0.28"/><feFuncB type="table" tableValues="0.92 0.85 0.79 0.78 0.775 0.76 0.72 0.62 0.6 0.6 0.6"/></feComponentTransfer>
<feGaussianBlur in="SourceAlpha" stdDeviation="3.5" result="mb"/>
<feColorMatrix in="n" type="matrix" values="0 0 0 0 0  0 0 0 0 0  0 0 0 0 0  1 0 0 0 0" result="na"/>
<feComposite in="mb" in2="na" operator="arithmetic" k1="0" k2="0.9" k3="0.72" k4="0" result="m1"/>
<feComponentTransfer in="m1" result="m2"><feFuncA type="linear" slope="9" intercept="-5.35"/></feComponentTransfer>
<feComposite in="blue" in2="m2" operator="in" result="bluem"/>
<feMerge><feMergeNode in="gray"/><feMergeNode in="bluem"/></feMerge>
</filter></defs>
<g filter="url(#ct3)" fill="#fff">
<ellipse cx="1464.7" cy="313.9" rx="6.6" ry="9.0"/>
<ellipse cx="1446.8" cy="329.5" rx="5.0" ry="16.3"/>
<ellipse cx="1459.9" cy="330.7" rx="5.4" ry="6.6"/>
<ellipse cx="1495.8" cy="318.7" rx="6.2" ry="16.3"/>
<ellipse cx="1544.9" cy="310.3" rx="7.8" ry="11.4"/>
<ellipse cx="1583.1" cy="310.3" rx="10.2" ry="12.7"/>
<ellipse cx="1574.8" cy="343.8" rx="10.2" ry="16.3"/>
<ellipse cx="1556.8" cy="357.0" rx="8.4" ry="17.5"/>
<ellipse cx="1593.9" cy="341.4" rx="6.6" ry="11.4"/>
<ellipse cx="1587.9" cy="377.3" rx="5.4" ry="5.4"/>
<ellipse cx="1446.8" cy="367.8" rx="5.4" ry="7.8"/>
<ellipse cx="1597.5" cy="397.7" rx="2.9" ry="7.8"/>
</g>
<defs><filter id="ct4" filterUnits="userSpaceOnUse" x="1611" y="297.8" width="157" height="155.9" color-interpolation-filters="sRGB">
<feTurbulence type="turbulence" baseFrequency="0.055 0.036" numOctaves="3" seed="53" result="n"/>
<feColorMatrix in="n" type="matrix" values="1 0 0 0 0  1 0 0 0 0  1 0 0 0 0  0 0 0 0 1" result="g0"/>
<feComponentTransfer in="g0" result="gray"><feFuncR type="table" tableValues="0.95 0.9 0.8 0.62 0.42 0.28 0.18 0.1 0.05 0.02 0"/><feFuncG type="table" tableValues="0.95 0.9 0.8 0.62 0.42 0.28 0.18 0.1 0.05 0.02 0"/><feFuncB type="table" tableValues="0.95 0.9 0.8 0.62 0.42 0.28 0.18 0.1 0.05 0.02 0"/></feComponentTransfer>
<feComponentTransfer in="g0" result="blue"><feFuncR type="table" tableValues="0.9 0.62 0.32 0.285 0.28 0.27 0.25 0.22 0.2 0.2 0.2"/><feFuncG type="table" tableValues="0.9 0.68 0.42 0.39 0.385 0.37 0.35 0.30 0.28 0.28 0.28"/><feFuncB type="table" tableValues="0.92 0.85 0.79 0.78 0.775 0.76 0.72 0.62 0.6 0.6 0.6"/></feComponentTransfer>
<feGaussianBlur in="SourceAlpha" stdDeviation="3.5" result="mb"/>
<feColorMatrix in="n" type="matrix" values="0 0 0 0 0  0 0 0 0 0  0 0 0 0 0  1 0 0 0 0" result="na"/>
<feComposite in="mb" in2="na" operator="arithmetic" k1="0" k2="0.9" k3="0.72" k4="0" result="m1"/>
<feComponentTransfer in="m1" result="m2"><feFuncA type="linear" slope="9" intercept="-5.35"/></feComponentTransfer>
<feComposite in="blue" in2="m2" operator="in" result="bluem"/>
<feMerge><feMergeNode in="gray"/><feMergeNode in="bluem"/></feMerge>
</filter></defs>
<g filter="url(#ct4)" fill="#fff">
<polygon points="1611.4,328.3 1635.9,328.3 1643.1,343.8 1646.7,373.7 1640.7,385.7 1655.0,391.7 1657.4,415.6 1641.9,422.8 1621.6,420.4 1620.4,385.7 1611.4,373.7"/>
<polygon points="1673.0,329.5 1689.7,337.8 1707.7,364.2 1702.9,373.7 1689.7,382.1 1673.0,377.3 1670.6,349.8"/>
<polygon points="1689.7,379.7 1713.7,371.3 1737.0,372.5 1737.0,421.0 1713.7,421.0 1711.3,397.7 1699.3,389.3 1689.7,397.7"/>
<polygon points="1720.2,307.9 1741.8,307.9 1741.8,368.9 1720.2,368.9"/>
<polygon points="1744.8,305.0 1768.7,305.0 1768.7,368.9 1749.5,368.9 1744.8,343.8"/>
<polygon points="1740.6,382.7 1768.7,382.7 1768.7,432.9 1740.6,432.9"/>
<ellipse cx="1615.6" cy="318.7" rx="5.4" ry="7.8"/>
<ellipse cx="1726.8" cy="441.9" rx="5.4" ry="10.2"/>
<ellipse cx="1618.0" cy="445.5" rx="6.6" ry="6.6"/>
<ellipse cx="1647.9" cy="352.2" rx="7.8" ry="18.5"/>
<ellipse cx="1673.0" cy="427.6" rx="6.0" ry="7.2"/>
<ellipse cx="1635.9" cy="431.1" rx="7.2" ry="6.0"/>
</g>
<text x="1478.36" y="482.3" font-size="27" textLength="79.33" stroke="#000" stroke-width="0.8">Young</text>
<text x="1665.86" y="482.3" font-size="27" textLength="40.38" stroke="#000" stroke-width="0.8">Old</text>
<text transform="translate(1433.4,245.8) rotate(-90)" font-size="28" font-style="italic" textLength="45" lengthAdjust="spacingAndGlyphs" stroke="#000" stroke-width="0.8">Myc</text>
<text transform="translate(1420.4,198.6) rotate(-90)" font-size="20" font-style="italic" textLength="33" stroke="#000" stroke-width="0.8">+/+</text>
<text transform="translate(1433.4,415.9) rotate(-90)" font-size="28" font-style="italic" textLength="45" lengthAdjust="spacingAndGlyphs" stroke="#000" stroke-width="0.8">Myc</text>
<text transform="translate(1420.4,374.3) rotate(-90)" font-size="20" font-style="italic" textLength="27" stroke="#000" stroke-width="0.8">+/-</text>
</svg>
</body></html>
